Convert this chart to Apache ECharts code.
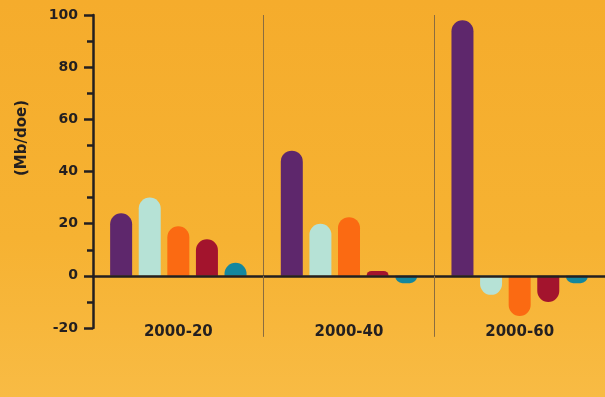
<!DOCTYPE html>
<html><head><meta charset="utf-8">
<script src="https://cdn.jsdelivr.net/npm/echarts@6/dist/echarts.min.js"></script>
<style>html,body{margin:0;padding:0;background:#f6b130;}#c{width:605px;height:397px;}</style>
</head><body><div id="c"></div>
<script>
const categories = ['2000-20', '2000-40', '2000-60'];
const purple = [24, 48, 98];
const cyan = [30, 20, -7.3];
const orange = [19, 22.5, -15.4];
const red = [14, 1.9, -10];
const teal = [5, -2.8, -2.8];
const yTicks = { min: -20, max: 100, interval: 20 };
const yName = '(Mb/doe)';

const colors = ['#5e276c', '#b6e2d6', '#fb6a12', '#a3142d', '#14879e'];
const R = 11;
function mk(name, vals, color) {
  return {
    name, type: 'bar', barWidth: 22, barGap: '30%',
    data: vals.map(v => ({ value: v, itemStyle: { borderRadius: v >= 0 ? [R, R, 0, 0] : [0, 0, R, R] } })),
    itemStyle: { color },
    z: 1
  };
}
const chart = echarts.init(document.getElementById('c'));
chart.setOption({
  backgroundColor: new echarts.graphic.LinearGradient(0, 0, 0, 1, [
    { offset: 0, color: '#f5ac2c' }, { offset: 0.6, color: '#f6b232' }, { offset: 1, color: '#f8bb44' }
  ]),
  animation: false,
  grid: { left: 93, right: -5, top: 15, bottom: 69, containLabel: false },
  xAxis: {
    type: 'category', data: categories,
    axisLine: { onZero: true, lineStyle: { color: '#231f20', width: 2.5 } },
    axisTick: { show: true, length: 61, interval: (i) => i !== 0, lineStyle: { color: '#8a6c40', width: 1 } },
    splitLine: { show: true, interval: (i) => i !== 0, lineStyle: { color: '#8a6c40', width: 1 } },
    axisLabel: { margin: -3, color: '#231f20', fontFamily: 'DejaVu Sans', fontWeight: 'bold', fontSize: 15 },
    z: 3
  },
  yAxis: {
    type: 'value', min: yTicks.min, max: yTicks.max, interval: yTicks.interval,
    axisLine: { show: true, lineStyle: { color: '#231f20', width: 2.5 } },
    axisTick: { show: true, length: 9, lineStyle: { color: '#231f20', width: 2.5 } },
    minorTick: { show: true, splitNumber: 2, length: 6, lineStyle: { color: '#231f20', width: 2.5 } },
    splitLine: { show: false },
    axisLabel: { margin: 15, color: '#231f20', fontFamily: 'DejaVu Sans', fontWeight: 'bold', fontSize: 14 },
    z: 3
  },
  graphic: [{
    type: 'text', x: 22, y: 138, rotation: Math.PI / 2,
    style: { text: yName, fill: '#231f20', font: 'bold 15px "DejaVu Sans"', textAlign: 'center', textVerticalAlign: 'middle' }
  }],
  series: [
    mk('a', purple, colors[0]),
    mk('b', cyan, colors[1]),
    mk('c', orange, colors[2]),
    mk('d', red, colors[3]),
    mk('e', teal, colors[4])
  ]
});
</script></body></html>
